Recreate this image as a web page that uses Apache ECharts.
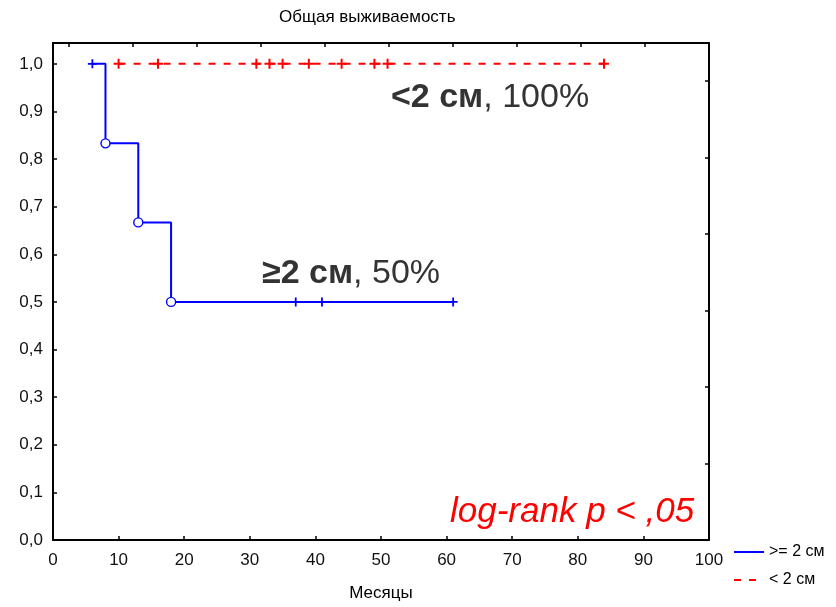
<!DOCTYPE html>
<html>
<head>
<meta charset="utf-8">
<script src="https://cdn.jsdelivr.net/npm/echarts@6/dist/echarts.min.js"></script>
<style>
html,body{margin:0;padding:0;background:#fff;}
#c{width:836px;height:607px;}
</style>
</head>
<body>
<div id="c"></div>
<script>
// ---- data ----
const chartTitle = 'Общая выживаемость';
const xAxisName = 'Месяцы';
const seriesNames = ['>= 2 см', '< 2 см'];

// group ">= 2 см" (blue): Kaplan-Meier step curve
const blueTimes = [6, 8, 13, 18, 37, 41, 61];
const blueSurvival = [1.0, 0.833, 0.667, 0.5, 0.5, 0.5, 0.5];
// events (open circles)
const blueEventTimes = [8, 13, 18];
const blueEventSurvival = [0.833, 0.667, 0.5];
// censored (+)
const blueCensoredTimes = [6, 37, 41, 61];
const blueCensoredSurvival = [1.0, 0.5, 0.5, 0.5];

// group "< 2 см" (red): all censored, survival 1.0
const redTimes = [10, 16, 31, 33, 35, 39, 44, 49, 51, 84];
const redSurvival = [1, 1, 1, 1, 1, 1, 1, 1, 1, 1];

// axis ticks
const xTicks = [0, 10, 20, 30, 40, 50, 60, 70, 80, 90, 100];
const yTicks = [0, 0.1, 0.2, 0.3, 0.4, 0.5, 0.6, 0.7, 0.8, 0.9, 1.0];

// annotations
const annRed = ['<2 см', ', 100%'];
const annBlue = ['≥2 см', ', 50%'];
const annTest = 'log-rank p < ,05';

// ---- helpers ----
const zip = (a, b) => a.map((v, i) => [v, b[i]]);
const BLUE = '#0000ff', RED = '#ff0000';
const plusPath = 'path://M0,4 L8,4 M4,0 L4,8';
const FONT = '"Liberation Sans", Arial, sans-serif';

const chart = echarts.init(document.getElementById('c'), null, {renderer: 'canvas'});

const option = {
  backgroundColor: '#fff',
  animation: false,
  title: {
    text: chartTitle,
    left: 274, top: 4,
    textStyle: {fontFamily: FONT, fontSize: 17, fontWeight: 'normal', color: '#000'}
  },
  grid: {left: 53, right: 127, top: 43, bottom: 63, containLabel: false},
  xAxis: [{
    type: 'value', min: xTicks[0], max: xTicks[xTicks.length - 1], interval: 10,
    name: xAxisName, nameLocation: 'middle', nameGap: 45,
    nameTextStyle: {fontFamily: FONT, fontSize: 17, color: '#000'},
    axisLine: {show: true, onZero: false, lineStyle: {color: '#000', width: 2}},
    axisTick: {show: true, inside: true, length: 4, lineStyle: {color: '#000', width: 1.5}},
    axisLabel: {fontFamily: FONT, fontSize: 17, color: '#111', margin: 12},
    splitLine: {show: false}
  }, {
    type: 'value', position: 'top', inverse: true, min: 0, max: 10.25, interval: 1,
    axisLine: {show: true, onZero: false, lineStyle: {color: '#000', width: 2}},
    axisTick: {show: true, inside: true, length: 4, lineStyle: {color: '#000', width: 1.5}},
    axisLabel: {show: false}, splitLine: {show: false}
  }],
  yAxis: [{
    type: 'value', min: 0, max: 1.04375, interval: 0.1,
    axisLine: {show: true, onZero: false, lineStyle: {color: '#000', width: 2}},
    axisTick: {show: true, inside: true, length: 4, lineStyle: {color: '#000', width: 1.5}},
    axisLabel: {
      fontFamily: FONT, fontSize: 17, color: '#111', margin: 10,
      formatter: v => (v > 1.0001 ? '' : v.toFixed(1).replace('.', ','))
    },
    splitLine: {show: false}
  }, {
    type: 'value', position: 'right', min: 0, max: 6.5, interval: 1,
    axisLine: {show: true, onZero: false, lineStyle: {color: '#000', width: 2}},
    axisTick: {show: true, inside: true, length: 4, lineStyle: {color: '#000', width: 1.5}},
    axisLabel: {show: false}, splitLine: {show: false}
  }],
  legend: {
    orient: 'vertical', left: 733, top: 544, padding: 0,
    itemWidth: 30, itemHeight: 14, itemGap: 12,
    data: seriesNames.map(n => ({name: n})),
    textStyle: {fontFamily: FONT, fontSize: 16, color: '#000'},
    itemStyle: {color: 'rgba(0,0,0,0)', borderColor: 'rgba(0,0,0,0)', borderWidth: 0}
  },
  series: [
    {
      name: seriesNames[0], type: 'line', step: 'end',
      data: zip(blueTimes, blueSurvival),
      symbol: 'none', lineStyle: {color: BLUE, width: 2}, itemStyle: {color: BLUE}, z: 3
    },
    {
      name: seriesNames[1], type: 'line',
      data: zip(redTimes, redSurvival),
      symbol: 'none', lineStyle: {color: RED, width: 2, type: [7, 8]}, itemStyle: {color: RED}, z: 3
    },
    {
      type: 'scatter', data: zip(blueEventTimes, blueEventSurvival),
      symbol: 'circle', symbolSize: 9,
      itemStyle: {color: '#fff', borderColor: BLUE, borderWidth: 1.4, opacity: 1}, z: 5
    },
    {
      type: 'scatter', data: zip(blueCensoredTimes, blueCensoredSurvival),
      symbol: plusPath, symbolSize: 9,
      itemStyle: {color: 'none', borderColor: BLUE, borderWidth: 1.8, opacity: 1}, z: 5
    },
    {
      type: 'scatter', data: zip(redTimes, redSurvival),
      symbol: plusPath, symbolSize: 10,
      itemStyle: {color: 'none', borderColor: RED, borderWidth: 2, opacity: 1}, z: 5
    }
  ],
  graphic: [
    {
      type: 'text', left: 391, top: 81, z: 10,
      style: {
        text: '{b|' + annRed[0] + '}{n|' + annRed[1] + '}',
        rich: {
          b: {fontFamily: FONT, fontSize: 34, fontWeight: 'bold', fill: '#333'},
          n: {fontFamily: FONT, fontSize: 34, fontWeight: 'normal', fill: '#333'}
        }
      }
    },
    {
      type: 'text', left: 262, top: 257, z: 10,
      style: {
        text: '{b|' + annBlue[0] + '}{n|' + annBlue[1] + '}',
        rich: {
          b: {fontFamily: FONT, fontSize: 34, fontWeight: 'bold', fill: '#333'},
          n: {fontFamily: FONT, fontSize: 34, fontWeight: 'normal', fill: '#333'}
        }
      }
    },
    {
      type: 'text', left: 450, top: 495, z: 10,
      style: {
        text: annTest,
        fontFamily: FONT, fontSize: 35, fontStyle: 'italic', fill: RED
      }
    }
  ]
};
chart.setOption(option);
</script>
</body>
</html>
